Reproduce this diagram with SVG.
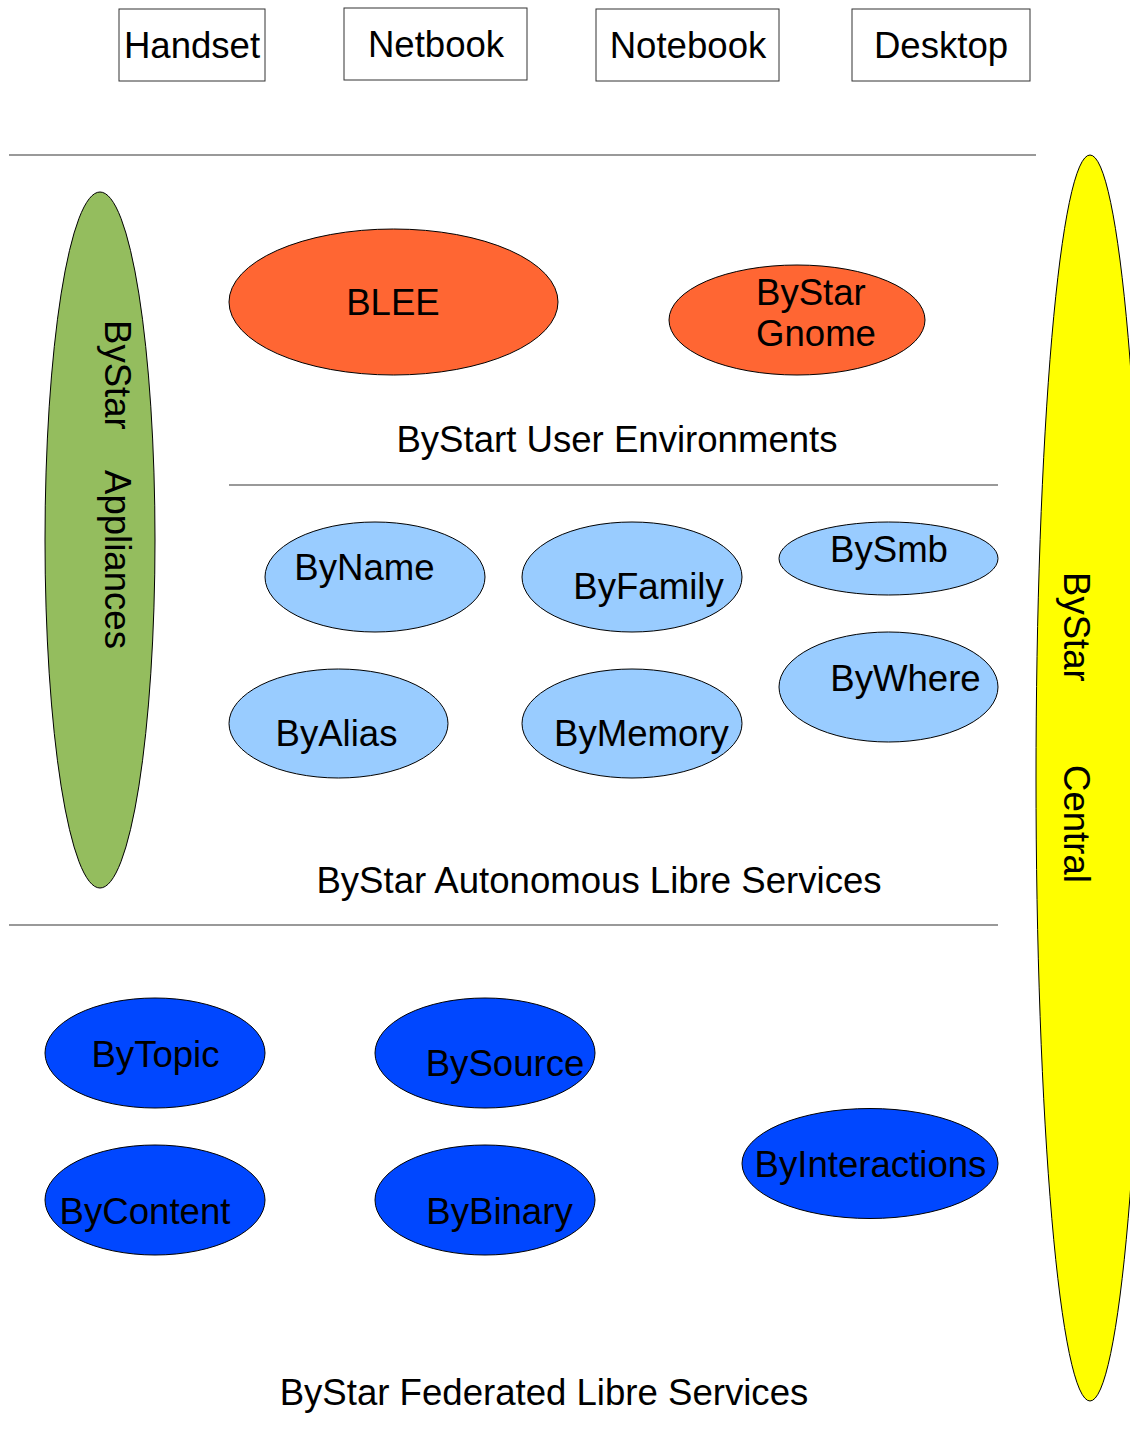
<svg xmlns="http://www.w3.org/2000/svg" width="1130" height="1433" viewBox="0 0 1130 1433">
<style>
text{font-family:"Liberation Sans",Arial,sans-serif;font-size:36.6px;fill:#000}
.c{text-anchor:middle}
.box{fill:#fff;stroke:#333;stroke-width:1}
.sep{stroke:#777;stroke-width:1.5;fill:none}
.e{stroke:#000;stroke-width:1}
.orange{fill:#ff6633}
.lblue{fill:#99ccff}
.blue{fill:#0047ff}
.green{fill:#94bd5e}
.yellow{fill:#ffff00}
</style>
<rect width="1130" height="1433" fill="#fff"/>

<g id="connectors">
<line class="sep" x1="9" y1="155" x2="1036" y2="155"/>
<line class="sep" x1="229" y1="485" x2="998" y2="485"/>
<line class="sep" x1="9" y1="925" x2="998" y2="925"/>
</g>

<g id="handset"><rect class="box" x="119" y="9" width="146" height="72"/><text class="c" x="192" y="58">Handset</text></g>
<g id="netbook"><rect class="box" x="344" y="8" width="183" height="72"/><text class="c" x="436" y="57">Netbook</text></g>
<g id="notebook"><rect class="box" x="596" y="9" width="183" height="72"/><text class="c" x="688" y="58">Notebook</text></g>
<g id="desktop"><rect class="box" x="852" y="9" width="178" height="72"/><text class="c" x="941" y="58">Desktop</text></g>

<g id="appliances">
<ellipse class="e green" cx="100" cy="540" rx="55" ry="348"/>
<g transform="translate(105,320) rotate(90)">
<text x="0" y="0">ByStar</text>
<text x="150" y="0">Appliances</text>
</g>
</g>

<g id="central">
<ellipse class="e yellow" cx="1090" cy="778" rx="54" ry="623"/>
<g transform="translate(1064,572) rotate(90)">
<text x="0" y="0">ByStar</text>
<text x="193" y="0">Central</text>
</g>
</g>

<g id="blee"><ellipse class="e orange" cx="393.5" cy="302" rx="164.5" ry="73"/><text class="c" x="393" y="315">BLEE</text></g>
<g id="bystar-gnome"><ellipse class="e orange" cx="797" cy="320" rx="128" ry="55"/><text x="756" y="305">ByStar</text><text x="756" y="346">Gnome</text></g>
<g id="user-env-label"><text class="c" x="617" y="452">ByStart User Environments</text></g>

<g id="byname"><ellipse class="e lblue" cx="375" cy="577" rx="110" ry="55"/><text class="c" x="364.5" y="580">ByName</text></g>
<g id="byfamily"><ellipse class="e lblue" cx="632" cy="577" rx="110" ry="55"/><text class="c" x="648.5" y="599">ByFamily</text></g>
<g id="bysmb"><ellipse class="e lblue" cx="888.5" cy="558.5" rx="109.5" ry="36.5"/><text class="c" x="889" y="562">BySmb</text></g>
<g id="byalias"><ellipse class="e lblue" cx="338.5" cy="723.5" rx="109.5" ry="54.5"/><text class="c" x="336.5" y="746">ByAlias</text></g>
<g id="bymemory"><ellipse class="e lblue" cx="632" cy="723.5" rx="110" ry="54.5"/><text class="c" x="641.5" y="746">ByMemory</text></g>
<g id="bywhere"><ellipse class="e lblue" cx="888.5" cy="687" rx="109.5" ry="55"/><text class="c" x="905.5" y="691">ByWhere</text></g>
<g id="autonomous-label"><text class="c" x="599" y="893">ByStar Autonomous Libre Services</text></g>

<g id="bytopic"><ellipse class="e blue" cx="155" cy="1053" rx="110" ry="55"/><text class="c" x="155.5" y="1067">ByTopic</text></g>
<g id="bysource"><ellipse class="e blue" cx="485" cy="1053" rx="110" ry="55"/><text class="c" x="505" y="1076">BySource</text></g>
<g id="bycontent"><ellipse class="e blue" cx="155" cy="1200" rx="110" ry="55"/><text class="c" x="145" y="1224">ByContent</text></g>
<g id="bybinary"><ellipse class="e blue" cx="485" cy="1200" rx="110" ry="55"/><text class="c" x="499.5" y="1224">ByBinary</text></g>
<g id="byinteractions"><ellipse class="e blue" cx="870" cy="1163.5" rx="128" ry="55"/><text class="c" x="870.5" y="1177">ByInteractions</text></g>
<g id="federated-label"><text class="c" x="544" y="1405">ByStar Federated Libre Services</text></g>
</svg>
